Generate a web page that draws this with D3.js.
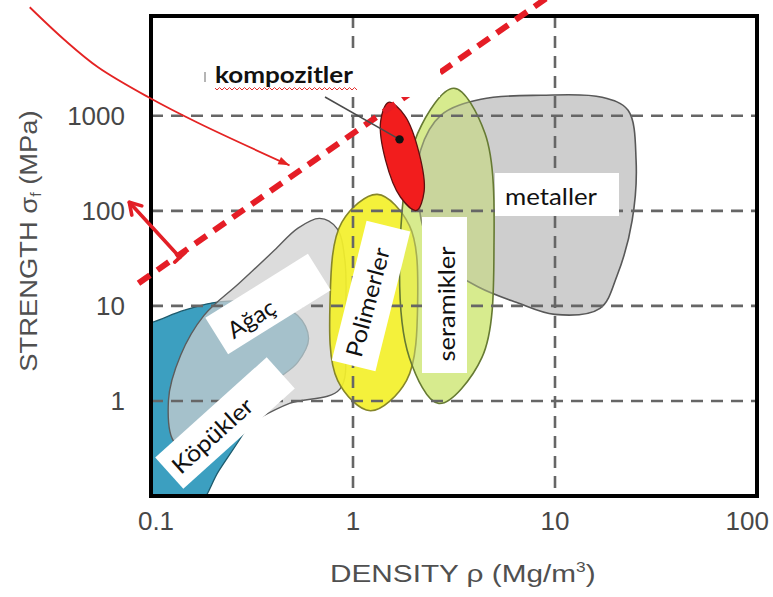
<!DOCTYPE html>
<html>
<head>
<meta charset="utf-8">
<script src="https://cdn.jsdelivr.net/npm/d3@7"></script>
<style>
  html, body { margin: 0; padding: 0; background: #fff; }
  svg { display: block; }
</style>
</head>
<body>
<svg id="chart" width="773" height="597"></svg>
<script>
// Axis ticks
const xTicks = [0.1, 1, 10, 100];
const xTickLabels = ["0.1", "1", "10", "100"];
const yTicks = [1, 10, 100, 1000];
const yTickLabels = ["1", "10", "100", "1000"];

// Material envelopes: [density Mg/m3, strength MPa] outline points
const foams = [[0.0614, 5.52], [0.0971, 6.54], [0.145, 8.97], [0.222, 11.1], [0.364, 10.6], [0.532, 7.94],
  [0.603, 4.55], [0.532, 2.54], [0.394, 1.46], [0.289, 0.466], [0.217, 0.185], [0.163, 0.0704], [0.0614, 0.0434]];
const woods = [[0.684, 83.4], [0.832, 65.5], [0.912, 30.1], [0.912, 5.52], [0.861, 1.33], [0.485, 0.942],
  [0.306, 0.58], [0.183, 0.316], [0.132, 0.357], [0.122, 1.01], [0.14, 3.01], [0.183, 7.94], [0.273, 17.3],
  [0.408, 38.4], [0.532, 65.5]];
const metals = [[2.16, 433], [2.72, 1012], [4.3, 1493], [8.57, 1643], [17.1, 1566], [23.0, 1142], [25.2, 340],
  [24.1, 79.6], [20.3, 20.9], [16.7, 9.42], [9.96, 8.14], [6.43, 10.9], [4.2, 15.7], [2.88, 26.7], [2.21, 70.3], [2.11, 185]];
const polymers = [[1.32, 149], [1.9, 70.3], [2.09, 11.4], [1.84, 1.64], [1.22, 0.79], [0.84, 1.64], [0.77, 11.4], [0.88, 75.7]];
const ceramics = [[3.16, 1950], [4.5, 654], [4.99, 46.6], [4.35, 2.87], [2.66, 0.94], [1.9, 2.87], [1.71, 43.3], [2.09, 654]];
const composites = [[1.5, 1387], [1.8, 1012], [2.12, 413], [2.25, 160], [2.06, 101], [1.72, 139], [1.45, 340], [1.37, 875]];
const compositeDot = [1.7, 565];

// Guide line (slope 3/2 on log axes) and annotation arrows
const guideLine = [[0.0867, 17.3], [9.07, 17260]];
const shiftArrow = [[0.139, 32.4], [0.0781, 123]];
const pointerCurve = [[0.0251, 13870], [0.0375, 6230], [0.0547, 3240], [0.0972, 1566], [0.1725, 834], [0.485, 301]];

// Class names
const labelNames = {
  composites: "kompozitler", metals: "metaller", ceramics: "seramikler",
  polymers: "Polimerler", woods: "Ağaç", foams: "Köpükler"
};

const svg = d3.select("#chart");
const x = d3.scaleLog().domain([0.1, 100]).range([151, 757]);
const y = d3.scaleLog().domain([0.1, Math.pow(10, 4.05)]).range([496, 16]);

svg.append("defs").append("clipPath").attr("id", "plot-clip")
  .append("rect").attr("x", x(0.1)).attr("y", y.range()[1])
  .attr("width", x(100) - x(0.1)).attr("height", y.range()[0] - y.range()[1]);

const closed = d3.line().x(d => x(d[0])).y(d => y(d[1])).curve(d3.curveCatmullRomClosed.alpha(0.5));

const shapes = svg.append("g").attr("clip-path", "url(#plot-clip)");
shapes.append("path").datum(foams).attr("d", closed)
  .attr("fill", "#3c9fc0").attr("stroke", "#1d5a6c").attr("stroke-width", 1.3);
shapes.append("path").datum(woods).attr("d", closed)
  .attr("fill", "#cfcfcf").attr("fill-opacity", 0.72).attr("stroke", "#5c5c5c").attr("stroke-width", 1.4);
// ceramics base fill, metals laid over it translucently
shapes.append("path").datum(ceramics).attr("d", closed).attr("fill", "#d7eb8e");
shapes.append("path").datum(metals).attr("d", closed)
  .attr("fill", "#b4b4b4").attr("fill-opacity", 0.65).attr("stroke", "#585858").attr("stroke-width", 1.6);
shapes.append("path").datum(polymers).attr("d", closed)
  .attr("fill", "#f3f02c").attr("fill-opacity", 0.93).attr("stroke", "#86862a").attr("stroke-width", 1.6);
shapes.append("path").datum(ceramics).attr("d", closed)
  .attr("fill", "#d7eb8e").attr("fill-opacity", 0.4).attr("stroke", "#667a33").attr("stroke-width", 1.6);

// Dashed grid
const grid = svg.append("g").attr("clip-path", "url(#plot-clip)")
  .attr("stroke", "#666").attr("stroke-width", 2.6).attr("stroke-dasharray", "12,8");
grid.selectAll("line.vx").data(xTicks.slice(1, -1)).join("line")
  .attr("x1", d => x(d)).attr("x2", d => x(d)).attr("y1", y.range()[1]).attr("y2", y.range()[0]);
grid.selectAll("line.hy").data(yTicks).join("line")
  .attr("y1", d => y(d)).attr("y2", d => y(d)).attr("x1", x(0.1)).attr("x2", x(100));

// Composites on top of the grid
const comp = svg.append("g").attr("clip-path", "url(#plot-clip)");
comp.append("path").datum(composites).attr("d", closed)
  .attr("fill", "#f21d1d").attr("stroke", "#5e1010").attr("stroke-width", 1.3);

// Frame
svg.append("rect").attr("x", x(0.1)).attr("y", y.range()[1])
  .attr("width", x(100) - x(0.1)).attr("height", y.range()[0] - y.range()[1])
  .attr("fill", "none").attr("stroke", "#000").attr("stroke-width", 4);

// Red dashed guide line
const straight = d3.line().x(d => x(d[0])).y(d => y(d[1]));
svg.append("path").datum(guideLine).attr("d", straight)
  .attr("stroke", "#e51d26").attr("stroke-width", 6).attr("stroke-dasharray", "14,9").attr("fill", "none");

// Label boxes: len runs along the rotated direction
const labelFont = "Lato, 'Open Sans', 'Noto Sans', sans-serif";
function box(cx, cy, len, thick, angle) {
  svg.append("rect").attr("x", -len / 2).attr("y", -thick / 2).attr("width", len).attr("height", thick)
    .attr("fill", "#fff").attr("transform", `translate(${cx},${cy}) rotate(${angle})`);
}
function label(text, cx, cy, angle, len, size) {
  svg.append("text").attr("transform", `translate(${cx},${cy}) rotate(${angle})`)
    .attr("text-anchor", "middle").attr("dominant-baseline", "central")
    .attr("font-family", labelFont).attr("font-size", size).attr("fill", "#111")
    .attr("textLength", len).attr("lengthAdjust", "spacingAndGlyphs").text(text);
}

// kompozitler
svg.append("rect").attr("x", 200).attr("y", 55).attr("width", 240).attr("height", 42).attr("fill", "#fff");
svg.append("line").attr("x1", 205).attr("x2", 205).attr("y1", 72).attr("y2", 82)
  .attr("stroke", "#b5b5b5").attr("stroke-width", 2);
svg.append("text").attr("x", 215).attr("y", 83)
  .attr("font-family", labelFont).attr("font-weight", 700).attr("font-size", 23).attr("fill", "#111")
  .attr("textLength", 138).attr("lengthAdjust", "spacingAndGlyphs").text(labelNames.composites);
{
  let p = "M215,88";
  for (let i = 1, xx = 217; xx <= 358; i++, xx += 2.5) p += `L${xx},${i % 2 ? 90 : 87.5}`;
  svg.append("path").attr("d", p).attr("fill", "none").attr("stroke", "#e23030").attr("stroke-width", 1);
}
svg.append("line").attr("x1", 325).attr("y1", 97)
  .attr("x2", x(compositeDot[0])).attr("y2", y(compositeDot[1]))
  .attr("stroke", "#4a4a4a").attr("stroke-width", 1.5);
svg.append("circle").attr("cx", x(compositeDot[0])).attr("cy", y(compositeDot[1])).attr("r", 4.2).attr("fill", "#111");

box(557, 194.5, 124, 43, 0);
label(labelNames.metals, 551, 196, 0, 92, 23);

box(444.5, 295, 156, 45, -90);
label(labelNames.ceramics, 446, 304, -90, 115, 23);

box(371, 296, 144, 45, -76);
label(labelNames.polymers, 367, 302, -75, 112, 23);

box(268, 304, 121, 43, -32);
label(labelNames.woods, 251, 318, -32, 52, 23);

box(225, 423, 150, 42, -42);
label(labelNames.foams, 212, 435, -42, 100, 23);

// Red annotation arrows
const ax0 = x(shiftArrow[0][0]), ay0 = y(shiftArrow[0][1]);
const ax1 = x(shiftArrow[1][0]), ay1 = y(shiftArrow[1][1]);
const ang = Math.atan2(ay1 - ay0, ax1 - ax0);
const arrow = svg.append("g").attr("stroke", "#e21f26").attr("stroke-width", 3.6).attr("fill", "none")
  .attr("stroke-linecap", "round").attr("stroke-linejoin", "round");
arrow.append("line").attr("x1", ax0).attr("y1", ay0).attr("x2", ax1).attr("y2", ay1);
arrow.append("line")
  .attr("x1", ax0 + 7 * Math.cos(ang + Math.PI / 2)).attr("y1", ay0 + 7 * Math.sin(ang + Math.PI / 2))
  .attr("x2", ax0 - 7 * Math.cos(ang + Math.PI / 2)).attr("y2", ay0 - 7 * Math.sin(ang + Math.PI / 2));
arrow.append("path").attr("d",
  `M${ax1 + 13 * Math.cos(ang + Math.PI - 0.55)},${ay1 + 13 * Math.sin(ang + Math.PI - 0.55)}` +
  `L${ax1},${ay1}` +
  `L${ax1 + 13 * Math.cos(ang + Math.PI + 0.55)},${ay1 + 13 * Math.sin(ang + Math.PI + 0.55)}`);

const curvy = d3.line().x(d => x(d[0])).y(d => y(d[1])).curve(d3.curveCatmullRom.alpha(0.5));
svg.append("path").datum(pointerCurve).attr("d", curvy)
  .attr("fill", "none").attr("stroke", "#e42323").attr("stroke-width", 1.8);
{
  const n = pointerCurve.length;
  const px = x(pointerCurve[n - 1][0]), py = y(pointerCurve[n - 1][1]);
  const qx = x(pointerCurve[n - 2][0]), qy = y(pointerCurve[n - 2][1]);
  const a = Math.atan2(py - qy, px - qx);
  svg.append("path").attr("fill", "#e42323").attr("d",
    `M${px},${py}L${px - 12 * Math.cos(a - 0.35)},${py - 12 * Math.sin(a - 0.35)}` +
    `L${px - 12 * Math.cos(a + 0.35)},${py - 12 * Math.sin(a + 0.35)}Z`);
}

// Tick labels (the last one kept inside the page edge)
const tickFont = "'Liberation Sans', Arial, Helvetica, sans-serif";
svg.append("g").selectAll("text").data(xTicks).join("text")
  .attr("x", (d, i) => i === xTicks.length - 1 ? 769 : x(d) + (i === 0 ? 5 : 0))
  .attr("y", 530).attr("text-anchor", (d, i) => i === xTicks.length - 1 ? "end" : "middle")
  .attr("font-family", tickFont).attr("font-size", 26).attr("fill", "#474747")
  .text((d, i) => xTickLabels[i]);
svg.append("g").selectAll("text").data(yTicks).join("text")
  .attr("x", 125).attr("y", d => y(d) + 9).attr("text-anchor", "end")
  .attr("font-family", tickFont).attr("font-size", 26).attr("fill", "#474747")
  .text((d, i) => yTickLabels[i]);

// Axis titles (slightly widened glyphs)
const xt = svg.append("text").attr("transform", "translate(330,582) scale(1.24,1)")
  .attr("font-family", tickFont).attr("font-size", 24).attr("fill", "#505050");
xt.append("tspan").text("DENSITY ρ (Mg/m");
xt.append("tspan").attr("font-size", 14).attr("dy", -10).text("3");
xt.append("tspan").attr("dy", 10).text(")");

const yt = svg.append("text").attr("transform", "translate(37,241) rotate(-90) scale(1.14,1)")
  .attr("text-anchor", "middle")
  .attr("font-family", tickFont).attr("font-size", 24).attr("fill", "#505050");
yt.append("tspan").text("STRENGTH σ");
yt.append("tspan").attr("font-size", 14).attr("dy", 4).text("f");
yt.append("tspan").attr("dy", -4).text(" (MPa)");
</script>
</body>
</html>
